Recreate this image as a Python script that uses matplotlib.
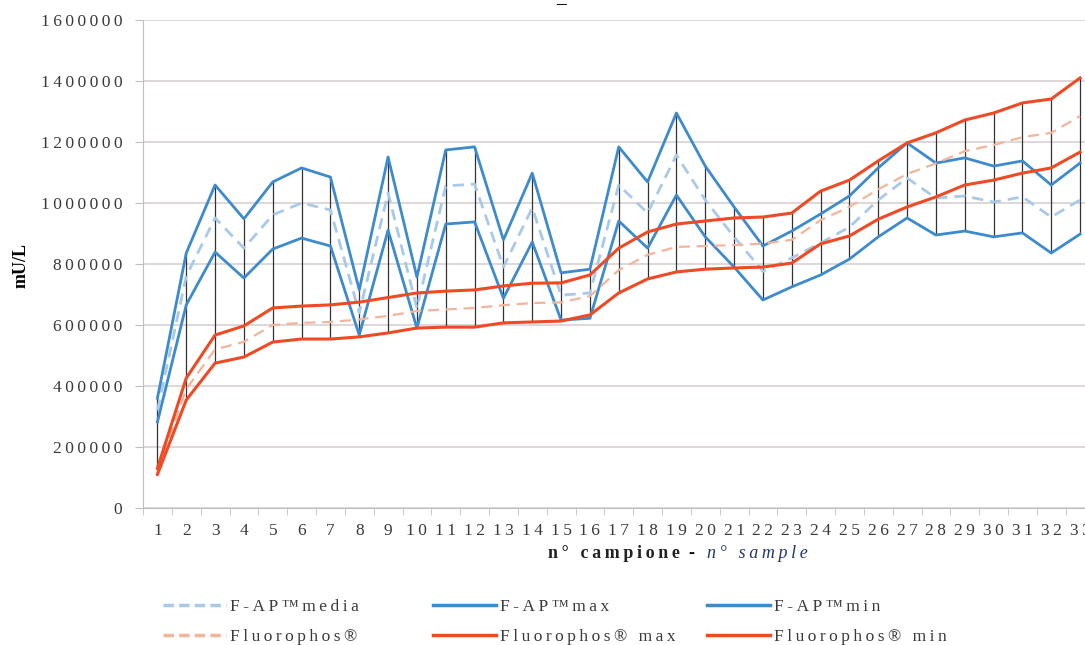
# grafico F-AP vs Fluorophos
import numpy as np
import matplotlib
matplotlib.use("Agg")
import matplotlib.pyplot as plt
from matplotlib.lines import Line2D

# numero campione
samples = list(range(1, 34))

# F-AP (valori in migliaia di mU/L)
fap_media = [320, 760, 951, 852, 961, 1000, 977, 640, 1033, 655, 1056, 1062, 790, 984, 698, 705,
             1059, 967, 1157, 1010, 889, 776, 820, 869, 921, 1010, 1082, 1016, 1023, 1003, 1020, 954, 1010]
fap_max = [360, 836, 1059, 948, 1069, 1115, 1085, 715, 1151, 757, 1174, 1184, 879, 1098, 771, 783,
           1184, 1069, 1295, 1121, 987, 859, 908, 964, 1023, 1115, 1197, 1131, 1148, 1121, 1138, 1059, 1131]
fap_min = [282, 666, 839, 754, 849, 885, 859, 567, 911, 590, 931, 938, 688, 872, 616, 622,
           941, 852, 1026, 889, 790, 682, 725, 764, 816, 889, 951, 895, 908, 889, 902, 836, 898]

# Fluorophos
fl_media = [120, 390, 520, 545, 600, 607, 610, 618, 630, 646, 651, 656, 665, 672, 674, 695,
            780, 830, 856, 859, 862, 867, 879, 944, 987, 1045, 1095, 1130, 1170, 1190, 1216, 1230, 1285]
fl_max = [130, 426, 567, 597, 656, 662, 666, 675, 690, 705, 711, 715, 728, 737, 738, 764,
          852, 905, 931, 941, 951, 954, 967, 1039, 1075, 1138, 1197, 1230, 1272, 1295, 1328, 1341, 1410]
fl_min = [110, 354, 475, 495, 544, 554, 554, 561, 574, 590, 593, 593, 607, 610, 613, 633,
          705, 751, 774, 783, 787, 790, 803, 866, 892, 947, 987, 1020, 1059, 1075, 1098, 1115, 1167]

y_ticks = [0, 200000, 400000, 600000, 800000, 1000000, 1200000, 1400000, 1600000]

plt.rcParams['font.family'] = ['Liberation Serif', 'DejaVu Serif']


def spaced(s):
    # the original text is drawn with wide letter spacing
    return '\u2009'.join(s)


x = np.array(samples)
to_units = lambda v: np.array(v) * 1000.0

W, H = 1085, 645
fig = plt.figure(figsize=(W / 100, H / 100), dpi=100)
fig.patch.set_facecolor('white')
# the plot area runs past the right edge, like in the original
ax = fig.add_axes([143 / W, 137 / H, (1094.5 - 143) / W, 488 / H])

blue = '#3d8bcd'
blue_light = '#a9c9e8'
red = '#ef4a24'
red_light = '#f2b59c'
txt = '#3a3a3a'

# high-low lines between highest and lowest value of each sample
all_vals = np.vstack([to_units(s) for s in [fap_media, fap_max, fap_min, fl_media, fl_max, fl_min]])
ax.vlines(x, all_vals.min(axis=0), all_vals.max(axis=0), color='#333333', lw=0.9, zorder=2)

ax.plot(x, to_units(fap_media), color=blue_light, lw=2.0, ls=(0, (4, 2.5)), zorder=3)
ax.plot(x, to_units(fap_max), color=blue, lw=2.0, zorder=3)
ax.plot(x, to_units(fap_min), color=blue, lw=2.0, zorder=3)
ax.plot(x, to_units(fl_media), color=red_light, lw=1.6, ls=(0, (5, 3)), zorder=4)
ax.plot(x, to_units(fl_max), color=red, lw=2.2, zorder=4)
ax.plot(x, to_units(fl_min), color=red, lw=2.2, zorder=4)

ax.set_xlim(0.5, 33.5)
ax.set_ylim(0, 1600000)
ax.set_yticks(y_ticks)
ax.set_yticklabels([spaced(str(v)) for v in y_ticks], fontsize=12.5, color=txt)
ax.set_xticks(samples)
ax.set_xticklabels([spaced(str(s)) for s in samples], fontsize=12.5, color=txt)
ax.set_xticks(np.arange(0.5, 34, 1), minor=True)
ax.tick_params(axis='x', which='major', length=0, pad=11)
ax.tick_params(axis='x', which='minor', length=5, color='#bfbfbf')
ax.tick_params(axis='y', length=6, color='#bfbfbf', pad=9)

ax.yaxis.grid(True, color='#dcd4d4', lw=1.3)
ax.set_axisbelow(True)
for s in ['top', 'right']:
    ax.spines[s].set_visible(False)
ax.spines['left'].set_color('#bfbfbf')
ax.spines['bottom'].set_color('#bfbfbf')

# y label
fig.text(21 / W, 1 - 266 / H, 'mU/L', fontsize=13, fontweight='bold', rotation=90,
         ha='center', va='center')

# x label: bold italian + italic english
fig.text(680 / W, 1 - 554 / H, spaced('n° campione'), fontsize=13, fontweight='bold',
         ha='right', va='center', color='#222222')
fig.text(691 / W, 1 - 554 / H, '-', fontsize=13, fontweight='bold', ha='center', va='center')
fig.text(707 / W, 1 - 554 / H, spaced('n° sample'), fontsize=13, fontstyle='italic',
         ha='left', va='center', color='#23356b')

# truncated title mark at the top
fig.text(561 / W, 1 - 3 / H, '_', fontsize=14, fontweight='bold', ha='center', va='baseline')

# legend: three columns placed by hand
cols = [
    (163, [('F-AP™media', blue_light, (0, (3, 1.5))), ('Fluorophos®', red_light, (0, (3, 1.5)))]),
    (433, [('F-AP™max', blue, '-'), ('Fluorophos® max', red, '-')]),
    (707, [('F-AP™min', blue, '-'), ('Fluorophos® min', red, '-')]),
]
for x0, entries in cols:
    handles = [Line2D([], [], color=c, lw=2.5, ls=ls) for _, c, ls in entries]
    labels = [spaced(lab) for lab, _, _ in entries]
    leg = fig.legend(handles, labels, loc='upper left', bbox_to_anchor=(x0 / W, 1 - 599 / H),
                     frameon=False, fontsize=12.5, handlelength=3.6, handletextpad=0.25,
                     labelspacing=0.78, borderpad=0, borderaxespad=0)
    for t in leg.get_texts():
        t.set_color(txt)

fig.savefig('out.png', dpi=100)
